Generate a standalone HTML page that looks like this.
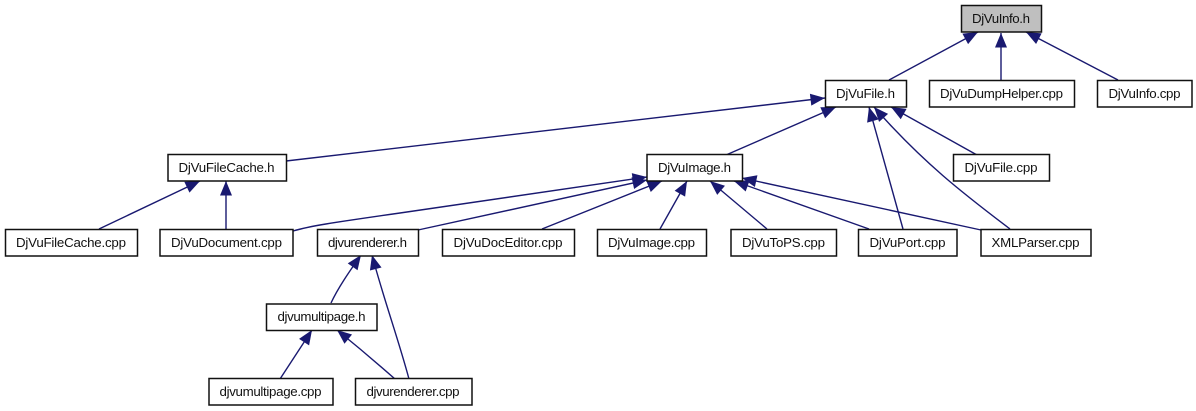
<!DOCTYPE html>
<html><head><meta charset="utf-8"><style>
html,body{margin:0;padding:0;background:#fff}
svg{display:block}
text{font-family:"Liberation Sans",Arial,sans-serif;font-size:13.3px;fill:#111;text-anchor:middle}
rect{fill:#fff;stroke:#111;stroke-width:1.5}
path.e{fill:none;stroke:#191970;stroke-width:1.4}
</style></head><body>
<svg width="1196" height="411" viewBox="0 0 1196 411" xmlns="http://www.w3.org/2000/svg">
<defs><marker id="a" markerUnits="userSpaceOnUse" markerWidth="18" markerHeight="14" refX="15" refY="7" orient="auto"><path d="M0.5,1 L15,7 L0.5,13 Z" fill="#191970"/></marker></defs>
<path class="e" marker-end="url(#a)" d="M889,80 L978,32"/>
<path class="e" marker-end="url(#a)" d="M1001,80 L1001,33"/>
<path class="e" marker-end="url(#a)" d="M1118,80 L1026,32"/>
<path class="e" marker-end="url(#a)" d="M286,161 L825,98"/>
<path class="e" marker-end="url(#a)" d="M726,155 L836,107"/>
<path class="e" marker-end="url(#a)" d="M977,155 L891,107"/>
<path class="e" marker-end="url(#a)" d="M903,229 L869,107"/>
<path class="e" marker-end="url(#a)" d="M1010,229 C968,197 925,165 874,107"/>
<path class="e" marker-end="url(#a)" d="M99,229 L200,181"/>
<path class="e" marker-end="url(#a)" d="M226,229 L226,181"/>
<path class="e" marker-end="url(#a)" d="M293,231 C310,226 330,223 400,213 L647,177"/>
<path class="e" marker-end="url(#a)" d="M418,230 L647,180"/>
<path class="e" marker-end="url(#a)" d="M542,229 L662,181"/>
<path class="e" marker-end="url(#a)" d="M660,229 L687,181"/>
<path class="e" marker-end="url(#a)" d="M767,229 L710,181"/>
<path class="e" marker-end="url(#a)" d="M869,229 L734,181"/>
<path class="e" marker-end="url(#a)" d="M981,230 L742,178"/>
<path class="e" marker-end="url(#a)" d="M331,303 C338,288 349,272 361,255"/>
<path class="e" marker-end="url(#a)" d="M409,379 C398,338 384,300 372,255"/>
<path class="e" marker-end="url(#a)" d="M280,379 L312,330"/>
<path class="e" marker-end="url(#a)" d="M395,379 C378,364 358,347 337,330"/>
<rect x="961.5" y="5.5" width="80" height="26.5" style="fill:#bfbfbf"/><text x="1001" y="23" textLength="58" lengthAdjust="spacing">DjVuInfo.h</text>
<rect x="825.5" y="80.5" width="81" height="26.5"/><text x="865.5" y="98" textLength="59" lengthAdjust="spacing">DjVuFile.h</text>
<rect x="929.5" y="80.5" width="145" height="26.5"/><text x="1001.5" y="98" textLength="123" lengthAdjust="spacing">DjVuDumpHelper.cpp</text>
<rect x="1097.5" y="80.5" width="94.5" height="26.5"/><text x="1144.5" y="98" textLength="72" lengthAdjust="spacing">DjVuInfo.cpp</text>
<rect x="953.5" y="154.5" width="96" height="26.5"/><text x="1001" y="172" textLength="73" lengthAdjust="spacing">DjVuFile.cpp</text>
<rect x="168" y="154.5" width="118.5" height="26.5"/><text x="226.5" y="172" textLength="96" lengthAdjust="spacing">DjVuFileCache.h</text>
<rect x="647" y="154.5" width="95.5" height="26.5"/><text x="694.5" y="172" textLength="73" lengthAdjust="spacing">DjVuImage.h</text>
<rect x="5.5" y="229.5" width="132" height="26.5"/><text x="71" y="247" textLength="110" lengthAdjust="spacing">DjVuFileCache.cpp</text>
<rect x="160" y="229.5" width="133" height="26.5"/><text x="226.5" y="247" textLength="111" lengthAdjust="spacing">DjVuDocument.cpp</text>
<rect x="317.5" y="229.5" width="101" height="26.5"/><text x="367.5" y="247" textLength="79" lengthAdjust="spacing">djvurenderer.h</text>
<rect x="442.5" y="229.5" width="132" height="26.5"/><text x="508" y="247" textLength="109" lengthAdjust="spacing">DjVuDocEditor.cpp</text>
<rect x="597.5" y="229.5" width="109" height="26.5"/><text x="651.5" y="247" textLength="87" lengthAdjust="spacing">DjVuImage.cpp</text>
<rect x="731" y="229.5" width="105.5" height="26.5"/><text x="783.5" y="247" textLength="83" lengthAdjust="spacing">DjVuToPS.cpp</text>
<rect x="858.5" y="229.5" width="98.5" height="26.5"/><text x="907.5" y="247" textLength="76" lengthAdjust="spacing">DjVuPort.cpp</text>
<rect x="981" y="229.5" width="110" height="26.5"/><text x="1035.5" y="247" textLength="88" lengthAdjust="spacing">XMLParser.cpp</text>
<rect x="266.5" y="304" width="110.5" height="26.5"/><text x="321.5" y="321" textLength="88" lengthAdjust="spacing">djvumultipage.h</text>
<rect x="209" y="378.5" width="124" height="26.5"/><text x="270.5" y="396" textLength="102" lengthAdjust="spacing">djvumultipage.cpp</text>
<rect x="355.5" y="378.5" width="116.5" height="26.5"/><text x="413" y="396" textLength="93" lengthAdjust="spacing">djvurenderer.cpp</text>
</svg>
</body></html>
